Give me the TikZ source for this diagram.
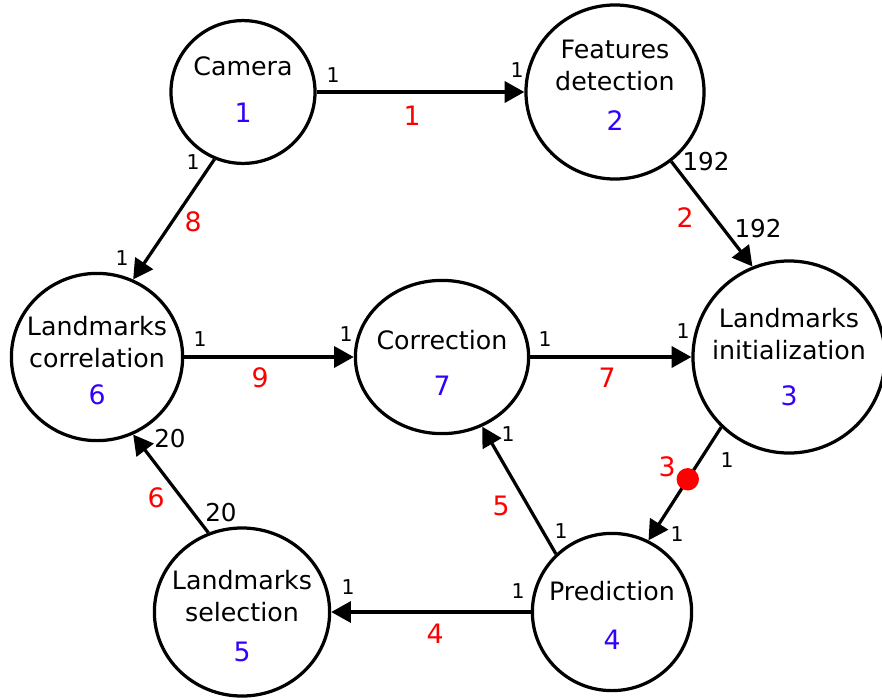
\documentclass[tikz,border=0pt]{standalone}
\usepackage{fontspec}
\setmainfont{DejaVu Sans}
\usetikzlibrary{arrows.meta,shapes.geometric}
\definecolor{stepred}{RGB}{255,0,0}
\definecolor{stepblue}{RGB}{51,0,255}
\newcommand{\nodeno}[1]{{\fontsize{19}{22.8}\selectfont\color{stepblue}#1}}
\newcommand{\lowstrut}[1]{\rule[-#1]{0pt}{0pt}}
\newcommand{\highstrut}[1]{\rule{0pt}{#1}}

\begin{document}
\begin{tikzpicture}[x=0.025cm,y=-0.025cm,>={Triangle[length=14pt,width=15pt]},
  block/.style={draw,ellipse,line width=2.3pt,inner sep=-0.5cm,align=center,
    font=\fontsize{18}{22.8}\selectfont},
  flow/.style={line width=2.3pt,->},
  rate/.style={inner sep=0pt,font=\fontsize{14.5}{14.5}\selectfont},
  count/.style={inner sep=0pt,font=\fontsize{17.5}{17.5}\selectfont},
  order/.style={inner sep=0pt,text=stepred,font=\fontsize{19}{19}\selectfont},
  dot/.style={circle,fill=stepred,inner sep=0pt,minimum size=0.56cm}]
  \useasboundingbox (0,0) rectangle (882,699);

  % processing steps
  \node[block,minimum width=3.6cm,minimum height=3.57cm] (cam) at (243,92) {Camera\\[10.6pt]\nodeno{1}\lowstrut{3.6pt}};
  \node[block,minimum width=4.45cm,minimum height=4.35cm] (fd) at (615,92) {Features\\detection\\[5.7pt]\nodeno{2}\lowstrut{9.2pt}};
  \node[block,minimum width=4.8cm,minimum height=4.8cm] (li) at (789,357) {Landmarks\\initialization\\[10pt]\nodeno{3}};
  \node[block,minimum width=4.28cm,minimum height=4.18cm] (lc) at (97,357) {\highstrut{18.7pt}Landmarks\\correlation\\[3.5pt]\nodeno{6}};
  \node[block,minimum width=4.33cm,minimum height=3.83cm] (corr) at (442,357) {\highstrut{22.3pt}Correction\\[10pt]\nodeno{7}};
  \node[block,minimum width=3.98cm,minimum height=3.93cm] (pred) at (612,612) {\highstrut{18.7pt}Prediction\\[12pt]\nodeno{4}};
  \node[block,minimum width=4.38cm,minimum height=4.2cm] (ls) at (242,612) {\highstrut{19.4pt}Landmarks\\selection\\[5.7pt]\nodeno{5}};

  % data flow
  \draw[flow] (cam.east) -- (fd.west);
  \draw[flow] (fd.-51) -- (li.112);
  \draw[flow] (li.-134) -- node[dot,pos=.46] (d3) {} (pred.63);
  \draw[flow] (pred.west) -- (ls.east);
  \draw[flow] (pred.134) -- (corr.-60);
  \draw[flow] (ls.113) -- (lc.-65);
  \draw[flow] (corr.east) -- (li.west);
  \draw[flow] (cam.-113) -- (lc.65);
  \draw[flow] (lc.east) -- (corr.west);

  % rates at both ends
  \node[rate] (t1) at (333,75) {1};
  \node[rate] (h1) at (517,70) {1};
  \node[count] (t2) at (706,162) {192};
  \node[count] (h2) at (758,229) {192};
  \node[rate] (t3) at (727,460) {1};
  \node[rate] (h3) at (677,534) {1};
  \node[rate] (t4) at (518,591) {1};
  \node[rate] (h4) at (348,587) {1};
  \node[rate] (t5) at (561,531) {1};
  \node[rate] (h5) at (508,434) {1};
  \node[count] (t6) at (221,513) {20};
  \node[count] (h6) at (170,439) {20};
  \node[rate] (t7) at (545,339) {1};
  \node[rate] (h7) at (683,331) {1};
  \node[rate] (t8) at (193,162) {1};
  \node[rate] (h8) at (122,258) {1};
  \node[rate] (t9) at (200,339) {1};
  \node[rate] (h9) at (346,334) {1};

  % execution order
  \node[order] (o1) at (412,116) {1};
  \node[order] (o2) at (685,218) {2};
  \node[order] (o3) at (667,467) {3};
  \node[order] (o4) at (435,634) {4};
  \node[order] (o5) at (501,506) {5};
  \node[order] (o6) at (156,498) {6};
  \node[order] (o7) at (607,378) {7};
  \node[order] (o8) at (193,222) {8};
  \node[order] (o9) at (260,378) {9};
\end{tikzpicture}
\end{document}
